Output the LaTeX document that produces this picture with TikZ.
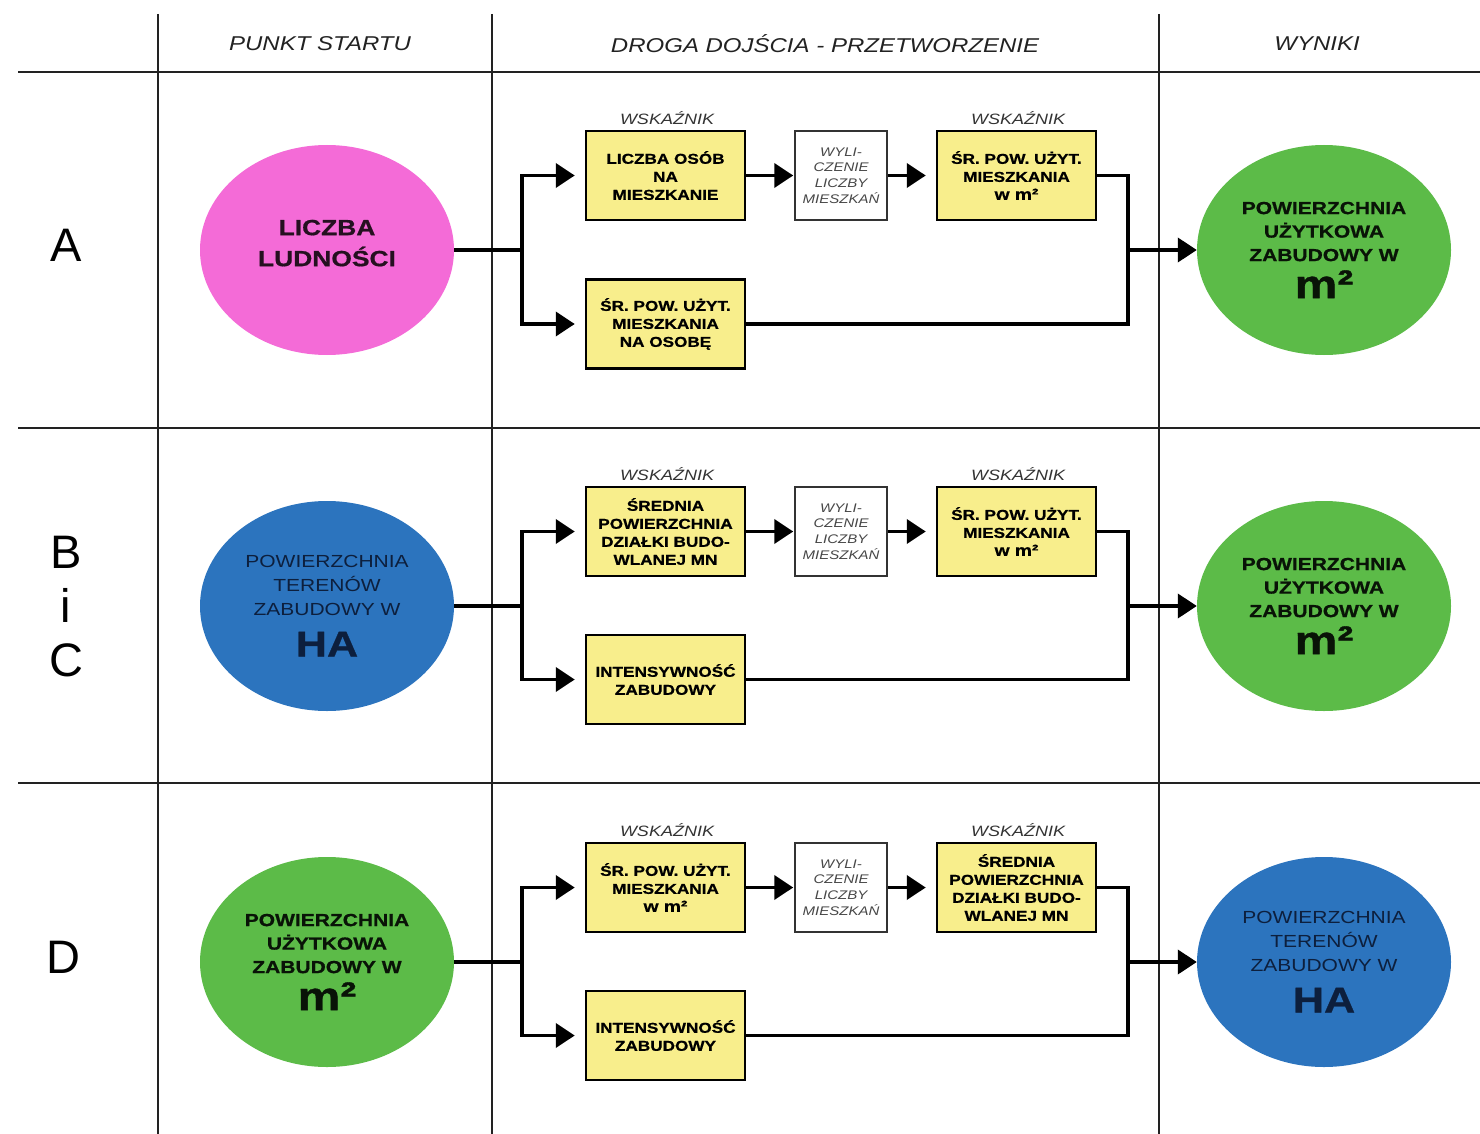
\documentclass[tikz,border=0pt]{standalone}
\usepackage{fontspec}
\setmainfont{Liberation Sans}[FakeStretch=1.2,BoldFeatures={FakeBold=0.8}]
\newfontfamily\plainsans{Liberation Sans}
\usetikzlibrary{arrows.meta,shapes.geometric}
\definecolor{cpink}{HTML}{F46BD7}
\definecolor{cblue}{HTML}{2C74BE}
\definecolor{cgreen}{HTML}{5CBB48}
\definecolor{cyellow}{HTML}{F8EE8C}
\definecolor{cgrid}{HTML}{222222}
\definecolor{ctxt}{HTML}{222222}
\definecolor{cnavy}{HTML}{0D1F3D}
\newcommand\greentxt{POWIERZCHNIA\\UŻYTKOWA\\ZABUDOWY W\\[8pt]{\fontsize{40}{40}\selectfont m²}}
\newcommand\bluetxt{POWIERZCHNIA\\TERENÓW\\ZABUDOWY W\\[15pt]{\fontsize{36}{36}\selectfont\bfseries HA}}
\newcommand\wmsq{{\fontsize{16}{18}\selectfont w m²}}
\begin{document}
\begin{tikzpicture}[x=1pt,y=-1pt,
 gridline/.style={draw=cgrid,line width=2.3pt},
 head/.style={font=\fontsize{20}{24}\selectfont\itshape,text=ctxt},
 rowlbl/.style={font=\plainsans\fontsize{47}{54}\selectfont,align=center},
 blob/.style={ellipse,minimum width=254pt,minimum height=210pt,inner sep=0pt,align=center},
 pinkblob/.style={blob,fill=cpink,text=black!85!cpink,font=\fontsize{22}{31}\selectfont\bfseries},
 greenblob/.style={blob,fill=cgreen,text=black!90!cgreen,font=\fontsize{17.5}{23.5}\selectfont\bfseries},
 blueblob/.style={blob,fill=cblue,text=cnavy,font=\fontsize{17.5}{24}\selectfont},
 ybox/.style={rectangle,draw=black,line width=2.5pt,fill=cyellow,minimum width=159pt,minimum height=89pt,inner sep=2pt,align=center,font=\fontsize{14.3}{18}\selectfont\bfseries},
 wbox/.style={rectangle,draw=black!80,line width=1.5pt,fill=white,minimum width=92pt,minimum height=89pt,inner sep=1pt,align=center,font=\fontsize{12.5}{15.7}\selectfont\itshape,text=black!72},
 ind/.style={font=\fontsize{15}{18}\selectfont\itshape,text=black!80},
 ln/.style={line width=3.8pt},
 arr/.style={ln,-{Triangle[length=19pt,width=24pt]}},
]
\useasboundingbox (0,0) rectangle (1480,1134);

% grid
\draw[gridline] (18,72) -- (1480,72);
\draw[gridline] (18,428) -- (1480,428);
\draw[gridline] (18,783) -- (1480,783);
\draw[gridline] (158,14) -- (158,1134);
\draw[gridline] (492,14) -- (492,1134);
\draw[gridline] (1159,14) -- (1159,1134);

% headers
\node[head] (h1) at (320,44) {PUNKT STARTU};
\node[head] (h2) at (825,44) {DROGA DOJŚCIA - PRZETWORZENIE};
\node[head] (h3) at (1317,44) {WYNIKI};

% ---------- row A ----------
\node[rowlbl] (la) at (66,245) {A};
\node[pinkblob] (sA) at (327,250) {LICZBA\\LUDNOŚCI\\[-17pt]\mbox{}};
\node[ind] (wA1) at (667,118) {WSKAŹNIK};
\node[ind] (wA3) at (1018,118) {WSKAŹNIK};
\node[ybox] (A1) at (665.5,175.5) {LICZBA OSÓB\\NA\\MIESZKANIE};
\node[wbox] (A2) at (841,175.5) {WYLI-\\CZENIE\\LICZBY\\MIESZKAŃ};
\node[ybox] (A3) at (1016.5,175.5) {ŚR. POW. UŻYT.\\MIESZKANIA\\\wmsq};
\node[ybox] (A4) at (665.5,324) {ŚR. POW. UŻYT.\\MIESZKANIA\\NA OSOBĘ};
\node[greenblob] (rA) at (1324,250) {\greentxt};
\coordinate (jA) at (522,250);
\coordinate (kA) at (1128,250);
\draw[ln] (sA.east) -- (jA);
\draw[arr,shorten >=10pt] (jA) |- (A1.west);
\draw[arr,shorten >=10pt] (jA) |- (A4.west);
\draw[arr,shorten >=1pt] (A1) -- (A2);
\draw[arr,shorten >=10pt] (A2) -- (A3);
\draw[ln] (A3.east) -| (kA);
\draw[ln] (A4.east) -| (kA);
\draw[arr] (kA) -- (rA.west);

% ---------- row B i C ----------
\node[rowlbl] (lb) at (66,607) {B\\i\\C};
\node[blueblob] (sB) at (327,606) {\bluetxt};
\node[ind] (wB1) at (667,474) {WSKAŹNIK};
\node[ind] (wB3) at (1018,474) {WSKAŹNIK};
\node[ybox] (B1) at (665.5,531.5) {ŚREDNIA\\POWIERZCHNIA\\DZIAŁKI BUDO-\\WLANEJ MN};
\node[wbox] (B2) at (841,531.5) {WYLI-\\CZENIE\\LICZBY\\MIESZKAŃ};
\node[ybox] (B3) at (1016.5,531.5) {ŚR. POW. UŻYT.\\MIESZKANIA\\\wmsq};
\node[ybox] (B4) at (665.5,679.5) {INTENSYWNOŚĆ\\ZABUDOWY};
\node[greenblob] (rB) at (1324,606) {\greentxt};
\coordinate (jB) at (522,606);
\coordinate (kB) at (1128,606);
\draw[ln] (sB.east) -- (jB);
\draw[arr,shorten >=10pt] (jB) |- (B1.west);
\draw[arr,shorten >=10pt] (jB) |- (B4.west);
\draw[arr,shorten >=1pt] (B1) -- (B2);
\draw[arr,shorten >=10pt] (B2) -- (B3);
\draw[ln] (B3.east) -| (kB);
\draw[ln] (B4.east) -| (kB);
\draw[arr] (kB) -- (rB.west);

% ---------- row D ----------
\node[rowlbl] (ld) at (63,957) {D};
\node[greenblob] (sD) at (327,962) {\greentxt};
\node[ind] (wD1) at (667,830) {WSKAŹNIK};
\node[ind] (wD3) at (1018,830) {WSKAŹNIK};
\node[ybox] (D1) at (665.5,887.5) {ŚR. POW. UŻYT.\\MIESZKANIA\\\wmsq};
\node[wbox] (D2) at (841,887.5) {WYLI-\\CZENIE\\LICZBY\\MIESZKAŃ};
\node[ybox] (D3) at (1016.5,887.5) {ŚREDNIA\\POWIERZCHNIA\\DZIAŁKI BUDO-\\WLANEJ MN};
\node[ybox] (D4) at (665.5,1035.5) {INTENSYWNOŚĆ\\ZABUDOWY};
\node[blueblob] (rD) at (1324,962) {\bluetxt};
\coordinate (jD) at (522,962);
\coordinate (kD) at (1128,962);
\draw[ln] (sD.east) -- (jD);
\draw[arr,shorten >=10pt] (jD) |- (D1.west);
\draw[arr,shorten >=10pt] (jD) |- (D4.west);
\draw[arr,shorten >=1pt] (D1) -- (D2);
\draw[arr,shorten >=10pt] (D2) -- (D3);
\draw[ln] (D3.east) -| (kD);
\draw[ln] (D4.east) -| (kD);
\draw[arr] (kD) -- (rD.west);
\end{tikzpicture}
\end{document}
